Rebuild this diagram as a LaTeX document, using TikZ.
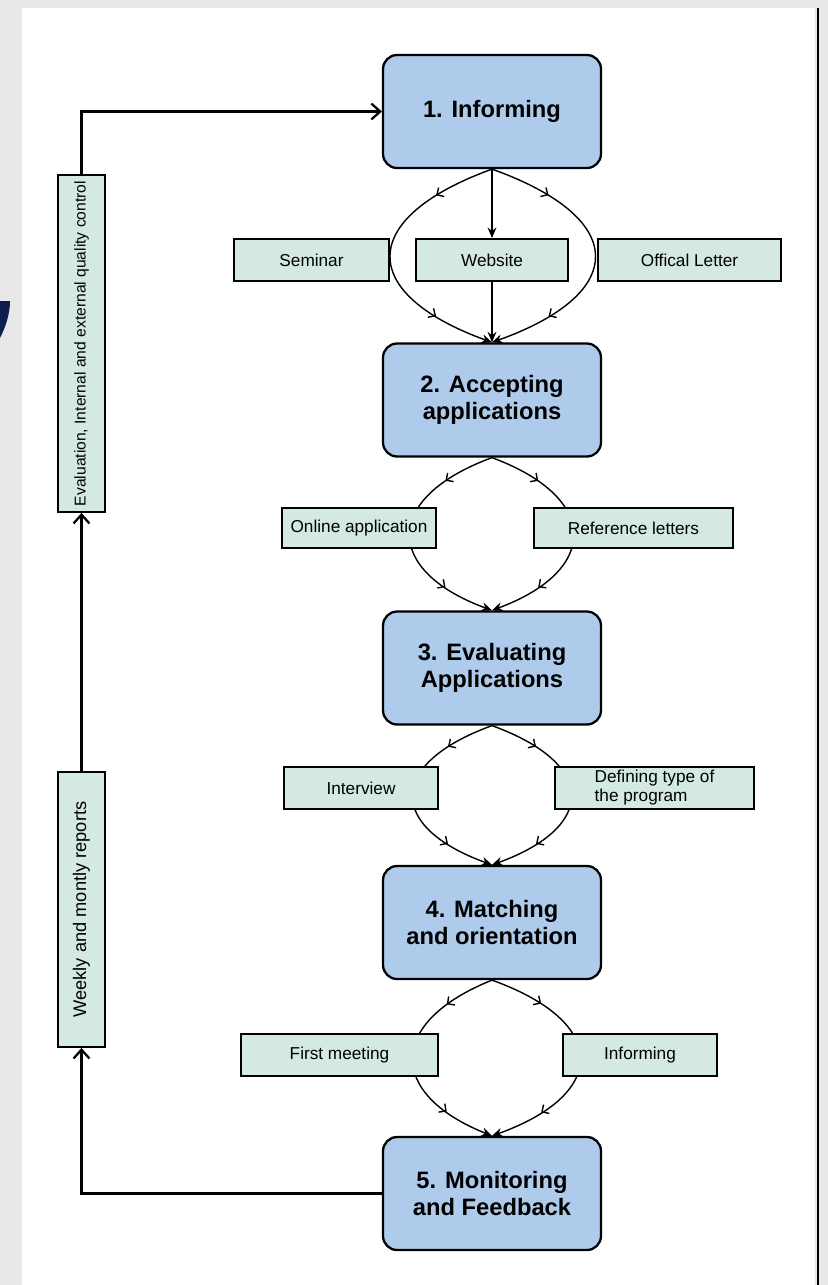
\documentclass[tikz,border=0pt]{standalone}
\usepackage{fontspec}
\setmainfont{Liberation Sans}
\usetikzlibrary{arrows.meta,calc,decorations.markings}

\definecolor{stepblue}{RGB}{174,203,235}
\definecolor{notegreen}{RGB}{211,233,226}
\definecolor{swirlblue}{RGB}{16,30,78}

\tikzset{
	stage/.style={draw=black, line width=1.3pt, fill=stepblue, rounded corners=8pt,
		minimum width=4.36cm, minimum height=2.26cm, inner sep=0pt, align=center,
		font=\fontsize{13.5}{15.5}\selectfont\bfseries},
	note/.style={draw=black, line width=1.1pt, fill=notegreen, inner sep=0pt,
		minimum height=0.84cm, align=center, font=\fontsize{9.8}{10.8}\selectfont},
	sidenote/.style={note, rotate=90, minimum height=0.94cm},
	flow/.style={line width=0.8pt, -{Stealth[length=6pt,width=5pt]},
		postaction={decorate},
		decoration={markings,
			mark=at position 0.22 with {\arrow{Straight Barb[length=3pt,width=6pt]}},
			mark=at position 0.78 with {\arrow{Straight Barb[length=3pt,width=6pt]}}}},
	straightflow/.style={line width=0.8pt, -{Stealth[length=6pt,width=5pt]}},
	loopline/.style={line width=1.3pt, -{Straight Barb[length=5pt,width=9pt]}}
}

\begin{document}
\begin{tikzpicture}[x=0.02cm, y=-0.02cm]
	\useasboundingbox (0,0) rectangle (828,1285);
	
	% --- PAGE FRAME ---
	\fill[gray!18] (0,0) rectangle (828,1285);
	\fill[white] (22,8) rectangle (815,1285);
	\draw[line width=1.6pt] (818,8) -- (818,1285);
	\fill[swirlblue] (0,301) -- (10,301) .. controls (10,315) and (5,328) .. (0,338) -- cycle;
	
	% --- MAIN STAGES ---
	\node[stage] (b1) at (492,111.5) {1. Informing};
	\node[stage] (b2) at (492,400) {2. Accepting\\applications};
	\node[stage] (b3) at (492,668) {3. Evaluating\\Applications};
	\node[stage] (b4) at (492,922.5) {4. Matching\\and orientation};
	\node[stage] (b5) at (492,1193.5) {5. Monitoring\\and Feedback};
	
	% --- CURVED FLOWS (behind the side notes) ---
	\foreach \boxa/\boxb/\dl/\dr/\a in {b1/b2/135/137/49, b2/b3/109/108/40,
		b3/b4/105/105/38, b4/b5/105/117/42} {
		\draw[flow] (\boxa.south) .. controls ($(\boxa.south)+(-\dl,\a)$) and ($(\boxb.north)+(-\dl,-\a)$) .. (\boxb.north);
		\draw[flow] (\boxa.south) .. controls ($(\boxa.south)+(\dr,\a)$) and ($(\boxb.north)+(\dr,-\a)$) .. (\boxb.north);
	}
	
	% --- NOTES BETWEEN STAGES ---
	% 1 -> 2
	\node[note, minimum width=3.1cm] (seminar) at (311.5,260) {Seminar};
	\node[note, minimum width=3.04cm] (website) at (492,260) {Website};
	\node[note, minimum width=3.66cm] (letter) at (689.5,260) {Offical Letter};
	% 2 -> 3
	\node[note, minimum width=3.08cm, minimum height=0.8cm] (online) at (359,528) {Online application};
	\node[note, minimum width=3.98cm, minimum height=0.8cm] (refs) at (633.5,528) {Reference letters};
	% 3 -> 4
	\node[note, minimum width=3.08cm] (interview) at (361,788) {Interview};
	\node[note, minimum width=3.98cm, align=left] (ptype) at (654.5,788) {Defining type of\\the program};
	% 4 -> 5
	\node[note, minimum width=3.94cm] (meeting) at (339.5,1055) {First meeting};
	\node[note, minimum width=3.08cm] (inform) at (640,1055) {Informing};
	
	\draw[straightflow] (b1.south) -- (website.north);
	\draw[straightflow] (website.south) -- (b2.north);
	
	% --- FEEDBACK LOOP (rotated notes: west is bottom, east is top) ---
	\node[sidenote, minimum width=6.74cm, font=\fontsize{8.9}{10}\selectfont] (quality) at (81.5,343.5)
		{Evaluation, Internal and external quality control};
	\node[sidenote, minimum width=5.5cm, font=\fontsize{10.4}{12}\selectfont] (reports) at (81.5,909.5)
		{Weekly and montly reports};
	
	\draw[loopline] (b5.west) -| (reports.west);
	\draw[loopline] (reports.east) -- (quality.west);
	\draw[loopline] (quality.east) |- (b1.west);
	
\end{tikzpicture}
\end{document}
